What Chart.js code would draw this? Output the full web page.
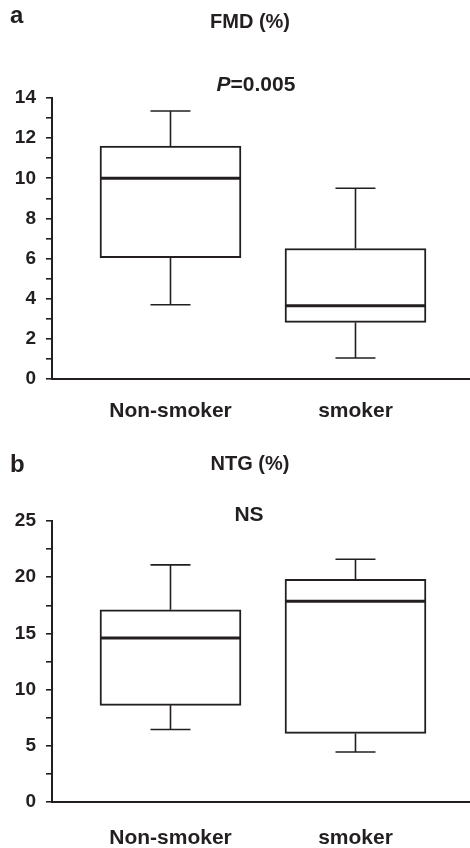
<!DOCTYPE html>
<html>
<head>
<meta charset="utf-8">
<script src="https://cdn.jsdelivr.net/npm/chart.js@4.4.1/dist/chart.umd.min.js"></script>
<style>
    html, body { margin: 0; padding: 0; background: #fff; }
    .panel { position: absolute; left: 0; width: 470px; }
    #panelA { top: 0; height: 430px; }
    #panelB { top: 430px; height: 418px; }
</style>
</head>
<body>
<div class="panel" id="panelA"><canvas id="fmdChart"></canvas></div>
<div class="panel" id="panelB"><canvas id="ntgChart"></canvas></div>
<script>
// groups on the x axis
var groups = ['Non-smoker', 'smoker'];
var groupPos = [1, 2];

// FMD (%) box values
var fmdMin = [3.7, 1.05];
var fmdQ1 = [6.05, 2.82];
var fmdMedian = [10.0, 3.65];
var fmdQ3 = [11.6, 6.5];
var fmdMax = [13.35, 9.5];
var fmdTicks = [0, 2, 4, 6, 8, 10, 12, 14];

// NTG (%) box values
var ntgMin = [6.45, 4.45];
var ntgQ1 = [8.6, 6.1];
var ntgMedian = [14.6, 17.85];
var ntgQ3 = [17.1, 19.8];
var ntgMax = [21.1, 21.6];
var ntgTicks = [0, 5, 10, 15, 20, 25];

const ink = '#231f20';
const fontFamily = '"Liberation Sans", Arial, Helvetica, sans-serif';

function boxData(q1, q3) {
    return groupPos.map(function (p, i) {
        return { x: p, y: [q1[i], q3[i]] };
    });
}

// whiskers + median drawn through the chart scales
const whiskerPlugin = {
    id: 'whiskers',
    afterDatasetsDraw: function (chart, args, opts) {
        const ctx = chart.ctx;
        const xs = chart.scales.x;
        const ys = chart.scales.y;
        ctx.save();
        ctx.strokeStyle = ink;
        groupPos.forEach(function (p, i) {
            const cx = xs.getPixelForValue(p);
            // whiskers
            ctx.lineWidth = 1.6;
            ctx.beginPath();
            ctx.moveTo(cx, ys.getPixelForValue(opts.q3[i]));
            ctx.lineTo(cx, ys.getPixelForValue(opts.max[i]));
            ctx.moveTo(cx - 20, ys.getPixelForValue(opts.max[i]));
            ctx.lineTo(cx + 20, ys.getPixelForValue(opts.max[i]));
            ctx.moveTo(cx, ys.getPixelForValue(opts.q1[i]));
            ctx.lineTo(cx, ys.getPixelForValue(opts.min[i]));
            ctx.moveTo(cx - 20, ys.getPixelForValue(opts.min[i]));
            ctx.lineTo(cx + 20, ys.getPixelForValue(opts.min[i]));
            ctx.stroke();
            // median
            const bar = chart.getDatasetMeta(0).data[i];
            ctx.lineWidth = 3;
            ctx.beginPath();
            ctx.moveTo(bar.x - bar.width / 2, ys.getPixelForValue(opts.median[i]));
            ctx.lineTo(bar.x + bar.width / 2, ys.getPixelForValue(opts.median[i]));
            ctx.stroke();
        });
        ctx.restore();
    }
};

// panel letter, title and the test note
const panelTextPlugin = {
    id: 'panelText',
    afterDraw: function (chart, args, opts) {
        const ctx = chart.ctx;
        ctx.save();
        ctx.fillStyle = ink;
        ctx.textBaseline = 'alphabetic';
        ctx.textAlign = 'left';
        ctx.font = 'bold 24px ' + fontFamily;
        ctx.fillText(opts.letter, 10, opts.letterY);

        ctx.textBaseline = 'middle';
        ctx.textAlign = 'center';
        ctx.font = 'bold 20px ' + fontFamily;
        ctx.fillText(opts.title, 250, opts.titleY);

        // note may start with an italic part
        ctx.textAlign = 'left';
        const italicFont = 'italic bold 21px ' + fontFamily;
        const plainFont = 'bold 21px ' + fontFamily;
        ctx.font = italicFont;
        const w1 = ctx.measureText(opts.noteItalic).width;
        ctx.font = plainFont;
        const w2 = ctx.measureText(opts.notePlain).width;
        let nx = opts.noteX - (w1 + w2) / 2;
        ctx.font = italicFont;
        ctx.fillText(opts.noteItalic, nx, opts.noteY);
        ctx.font = plainFont;
        ctx.fillText(opts.notePlain, nx + w1, opts.noteY);
        ctx.restore();
    }
};

function makeConfig(q1, q3, tickList, step, yMax, labelPad, topPad, xHeight, whiskers, texts) {
    return {
        type: 'bar',
        data: {
            datasets: [{
                data: boxData(q1, q3),
                backgroundColor: '#ffffff',
                borderColor: ink,
                borderWidth: 2,
                borderSkipped: false,
                barThickness: 141,
            }]
        },
        options: {
            responsive: true,
            maintainAspectRatio: false,
            animation: false,
            layout: { padding: { top: topPad, right: 0, bottom: 0, left: 0 } },
            plugins: {
                legend: { display: false },
                tooltip: { enabled: false },
                title: { display: false },
                whiskers: whiskers,
                panelText: texts
            },
            scales: {
                x: {
                    type: 'linear',
                    offset: false,
                    min: 0.3595,
                    max: 2.619,
                    afterBuildTicks: function (scale) {
                        scale.ticks = groupPos.map(function (p) { return { value: p }; });
                    },
                    afterFit: function (scale) { scale.height = xHeight; },
                    grid: { display: false, drawTicks: false },
                    border: { display: true, color: ink, width: 2 },
                    ticks: {
                        autoSkip: false,
                        maxRotation: 0,
                        padding: labelPad,
                        color: ink,
                        font: { family: fontFamily, size: 21, weight: 'bold' },
                        callback: function (v) {
                            const k = groupPos.indexOf(v);
                            return k >= 0 ? groups[k] : '';
                        }
                    }
                },
                y: {
                    min: 0,
                    max: yMax,
                    afterFit: function (scale) { scale.width = 52; },
                    grid: { drawOnChartArea: false, drawTicks: true, tickLength: 6, color: ink, lineWidth: 1.6 },
                    border: { display: true, color: ink, width: 2 },
                    ticks: {
                        stepSize: step,
                        autoSkip: false,
                        padding: 10,
                        color: ink,
                        font: { family: fontFamily, size: 19, weight: 'bold' },
                        callback: function (v) {
                            return tickList.indexOf(v) >= 0 ? String(v) : '';
                        }
                    }
                }
            }
        },
        plugins: [whiskerPlugin, panelTextPlugin]
    };
}

const fmdChart = new Chart(
    document.getElementById('fmdChart'),
    makeConfig(fmdQ1, fmdQ3, fmdTicks, 1, 14, 20, 98, 51,
        { min: fmdMin, q1: fmdQ1, median: fmdMedian, q3: fmdQ3, max: fmdMax },
        { letter: 'a', letterY: 23, title: 'FMD (%)', titleY: 22, noteItalic: 'P', notePlain: '=0.005', noteX: 256, noteY: 85 })
);

const ntgChart = new Chart(
    document.getElementById('ntgChart'),
    makeConfig(ntgQ1, ntgQ3, ntgTicks, 2.5, 25, 24, 91, 46,
        { min: ntgMin, q1: ntgQ1, median: ntgMedian, q3: ntgQ3, max: ntgMax },
        { letter: 'b', letterY: 42, title: 'NTG (%)', titleY: 34, noteItalic: '', notePlain: 'NS', noteX: 249, noteY: 85 })
);
</script>
</body>
</html>
